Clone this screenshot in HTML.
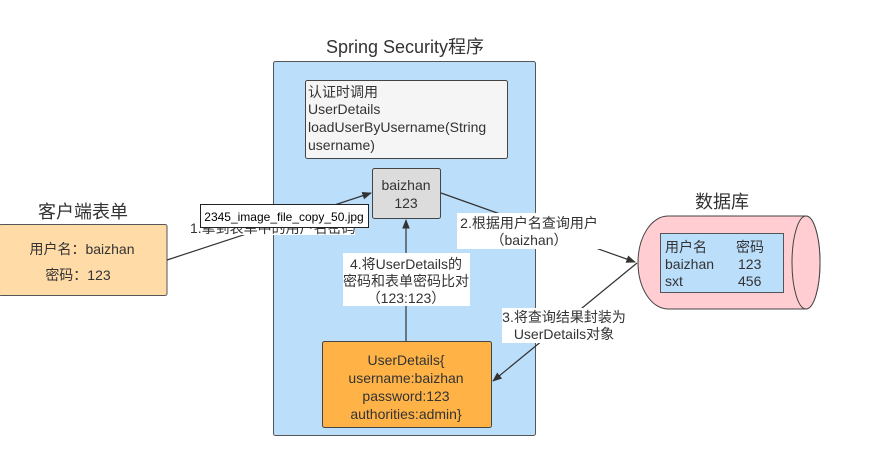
<!DOCTYPE html>
<html><head><meta charset="utf-8"><style>
html,body{margin:0;padding:0;background:#fff;}
text{font-family:"Liberation Sans","Noto Sans CJK SC",sans-serif;fill:#333;}
</style></head><body>
<svg width="883" height="454" viewBox="0 0 883 454" xmlns="http://www.w3.org/2000/svg">
<defs><marker id="a" viewBox="0 0 10 10" refX="9" refY="5" markerWidth="8" markerHeight="8" orient="auto"><path d="M0,1 L10,5 L0,9 z" fill="#333"/></marker></defs>
<text x="405" y="53" font-size="18" text-anchor="middle">Spring Security程序</text>
<rect x="273.5" y="61.5" width="262" height="374" rx="2" fill="#bbdefb" stroke="#555"/>
<rect x="305.5" y="80.5" width="202" height="78" rx="2" fill="#f5f5f5" stroke="#444"/>
<g font-size="14"><text x="308" y="97">认证时调用</text><text x="308" y="114">UserDetails</text><text x="308" y="132">loadUserByUsername(String</text><text x="308" y="150">username)</text></g>
<rect x="372.5" y="168.5" width="68" height="50" rx="2" fill="#dcdcdc" stroke="#444"/>
<text x="406" y="190" font-size="14" text-anchor="middle">baizhan</text><text x="406" y="208" font-size="14" text-anchor="middle">123</text>
<rect x="322.5" y="341.5" width="169" height="86" rx="2" fill="#ffb347" stroke="#444"/>
<g font-size="14" text-anchor="middle"><text x="406" y="365">UserDetails{</text><text x="406" y="383">username:baizhan</text><text x="406" y="401">password:123</text><text x="406" y="419">authorities:admin}</text></g>
<text x="83" y="218" font-size="18" text-anchor="middle">客户端表单</text>
<rect x="-1" y="224.5" width="168" height="71" rx="2" fill="#ffdba8" stroke="#555"/>
<text x="82" y="254" font-size="14" text-anchor="middle">用户名：baizhan</text>
<text x="78" y="280" font-size="14" text-anchor="middle">密码：123</text>
<text x="722" y="208" font-size="18" text-anchor="middle">数据库</text>
<path d="M668,216 H806 A14,46.5 0 0 1 806,309 H668 A30,46.5 0 0 1 668,216 Z" fill="#ffcdd2" stroke="#444"/>
<ellipse cx="806" cy="262.5" rx="14" ry="46.5" fill="#ffcdd2" stroke="#444"/>
<rect x="660.5" y="233.5" width="123" height="59" fill="#bbdefb" stroke="#555"/>
<g font-size="14"><text x="665" y="252">用户名</text><text x="736" y="252">密码</text><text x="665" y="269">baizhan</text><text x="738" y="269">123</text><text x="665" y="286">sxt</text><text x="738" y="286">456</text></g>
<g stroke="#333" stroke-width="1.2" fill="none">
<line x1="167" y1="260" x2="371" y2="193" marker-end="url(#a)"/>
<line x1="441" y1="193" x2="635" y2="262" marker-end="url(#a)"/>
<line x1="637" y1="263" x2="493" y2="381" marker-end="url(#a)"/>
<line x1="406" y1="341" x2="406" y2="220" marker-end="url(#a)"/>
</g>
<rect x="190" y="217" width="165" height="18" fill="#fff"/>
<text x="190" y="233" font-size="14">1.拿到表单中的用户名密码</text>
<rect x="200.5" y="204.5" width="168" height="23" fill="#fff" stroke="#222"/>
<text x="284" y="221" font-size="12" text-anchor="middle" style="fill:#000">2345_image_file_copy_50.jpg</text>
<rect x="457" y="213" width="145" height="36" fill="#fff"/>
<text x="529" y="228" font-size="14" text-anchor="middle">2.根据用户名查询用户</text>
<text x="529" y="245" font-size="14" text-anchor="middle">（baizhan）</text>
<rect x="343" y="253" width="127" height="53" fill="#fff"/>
<g font-size="14" text-anchor="middle"><text x="406" y="269">4.将UserDetails的</text><text x="406" y="286">密码和表单密码比对</text><text x="406" y="303">（123:123）</text></g>
<rect x="502" y="308" width="123" height="35" fill="#fff"/>
<text x="564" y="322" font-size="14" text-anchor="middle">3.将查询结果封装为</text>
<text x="564" y="339" font-size="14" text-anchor="middle">UserDetails对象</text>
</svg>
</body></html>
